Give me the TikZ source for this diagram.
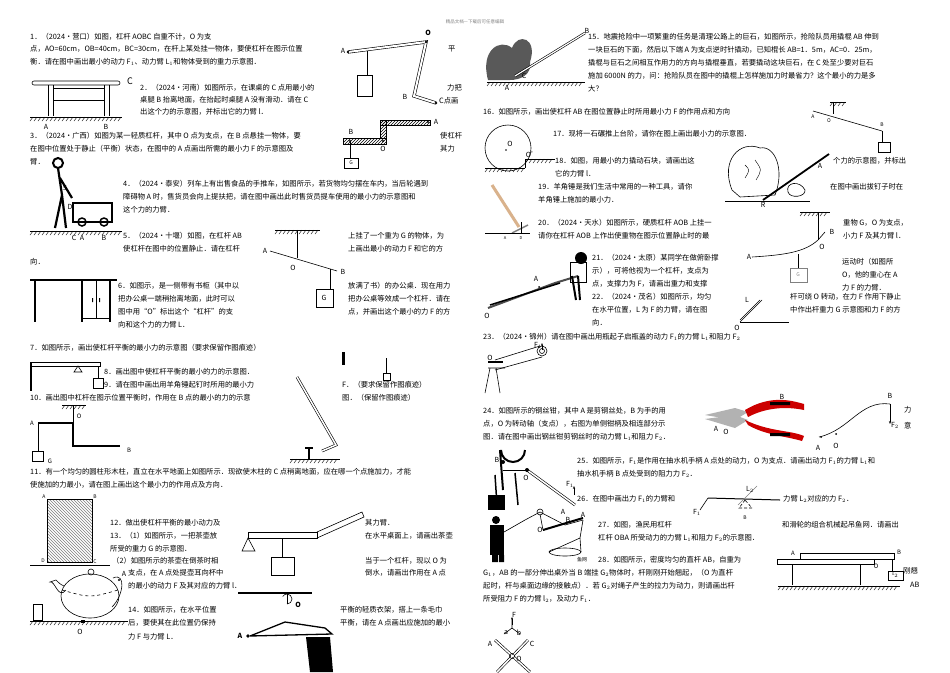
\documentclass[tikz,border=0pt]{standalone}
\usepackage{fontspec}
\setmainfont{Noto Sans CJK SC}
\usetikzlibrary{patterns,arrows.meta}
\newcounter{tn}
\newcommand\T[3]{\stepcounter{tn}\node[txt] (t\arabic{tn}) at (#1,#2) {#3};}
\newcommand\Lb[3]{\stepcounter{tn}\node[lbl] (l\arabic{tn}) at (#1,#2) {#3};}
\newcommand\Gnd[3]{\draw[thin] (#1,#3)--(#2,#3); \pgfmathtruncatemacro\gn{(#2-#1)/4-1}\foreach \k in {0,...,\gn}{\draw[thin] (#1+4*\k,#3+4)--(#1+4*\k+3,#3);}}
\begin{document}
\begin{tikzpicture}[x=1pt,y=-1pt,
 txt/.style={anchor=west,inner sep=0pt,font=\fontsize{7.3}{8}\selectfont},
 lbl/.style={inner sep=0pt,font=\fontsize{7}{8}\selectfont\itshape},
 fig/.style={line width=0.6pt},
 bar/.style={line width=2.2pt}]
\useasboundingbox[fill=white] (0,0) rectangle (950,672);
\node[inner sep=0pt,font=\fontsize{4.5}{5}\selectfont,text=gray] (hdr) at (475,22) {精品文档---下载后可任意编辑};
% ---------- left column text
\T{30}{37}{1．（2024•营口）如图，杠杆 AOBC 自重不计，O 为支}
\T{30}{49}{点，AO=60cm，OB=40cm，BC=30cm，在杆上某处挂一物体，要使杠杆在图示位置}
\T{448}{49}{平}
\T{30}{62}{衡．请在图中画出最小的动力 F$_1$、动力臂 L$_1$和物体受到的重力示意图．}
\T{447}{88}{力把}\T{439}{101}{\textit{C}点画}
\T{140}{88}{2．（2024•河南）如图所示，在课桌的 C 点用最小的}
\T{140}{100}{桌腿 B 抬离地面，在抬起时桌腿 A 没有滑动．请在 C}
\T{140}{112}{出这个力的示意图，并标出它的力臂 l．}
\T{30}{136}{3．（2024•广西）如图为某一轻质杠杆，其中 O 点为支点，在 B 点悬挂一物体，要}
\T{440}{136}{使杠杆}
\T{30}{149}{在图中位置处于静止（平衡）状态，在图中的 A 点画出所需的最小力 F 的示意图及}
\T{440}{149}{其力}
\T{30}{162}{臂．}
\T{123}{184}{4．（2024•泰安）列车上有出售食品的手推车，如图所示，若货物均匀摆在车内，当后轮遇到}
\T{123}{197}{障碍物 A 时，售货员会向上提扶把，请在图中画出此时售货员提车使用的最小力的示意图和}
\T{123}{210}{这个力的力臂．}
\T{123}{236}{5．（2024•十堰）如图，在杠杆 AB}
\T{348}{236}{上挂了一个重为 G 的物体，为}
\T{123}{249}{使杠杆在图中的位置静止．请在杠杆}
\T{348}{249}{上画出最小的动力 F 和它的方}
\T{30}{262}{向．}
\T{118}{286}{6．如图示，是一侧带有书柜（其中以}
\T{348}{286}{放满了书）的办公桌．现在用力}
\T{118}{299}{把办公桌一端稍抬离地面，此时可以}
\T{348}{299}{把办公桌等效成一个杠杆．请在}
\T{118}{312}{图中用“O”标出这个“杠杆”的支}
\T{348}{312}{点，并画出这个最小的力 F 的方}
\T{118}{325}{向和这个力的力臂 L．}
\T{30}{348}{7．如图所示，画出使杠杆平衡的最小力的示意图（要求保留作图痕迹）}
\T{104}{372}{8．画出图中使杠杆平衡的最小的力的示意图．}
\T{104}{385}{9．请在图中画出用羊角锤起钉时所用的最小力}
\T{342}{385}{F．（要求保留作图痕迹）}
\T{30}{398}{10．画出图中杠杆在图示位置平衡时，作用在 B 点的最小的力的示意}
\T{342}{398}{图．（保留作图痕迹）}
\T{30}{472}{11．有一个均匀的圆柱形木柱，直立在水平地面上如图所示．现欲使木柱的 C 点稍离地面，应在哪一个点施加力，才能}
\T{30}{485}{使施加的力最小，请在图上画出这个最小力的作用点及方向．}
\T{110}{523}{12．做出使杠杆平衡的最小动力及}
\T{365}{523}{其力臂．}
\T{110}{536}{13．（1）如图所示，一把茶壶放}
\T{365}{536}{在水平桌面上，请画出茶壶}
\T{110}{549}{所受的重力 G 的示意图．}
\T{112}{561}{（2）如图所示的茶壶在倒茶时相}
\T{365}{561}{当于一个杠杆，现以 O 为}
\T{128}{573}{支点，在 A 点处提壶耳向杯中}
\T{365}{573}{倒水，请画出作用在 A 点}
\T{128}{586}{的最小的动力 F 及其对应的力臂 l．}
\T{128}{610}{14．如图所示，在水平位置}
\T{340}{610}{平衡的轻质衣架，搭上一条毛巾}
\T{128}{623}{后，要使其在此位置仍保持}
\T{340}{623}{平衡，请在 A 点画出应施加的最小}
\T{128}{637}{力 F 与力臂 L．}
% ---------- right column text
\T{588}{37}{15．地震抢险中一项繁重的任务是清理公路上的巨石，如图所示，抢险队员用撬棍 AB 伸到}
\T{588}{50}{一块巨石的下面，然后以下端 A 为支点逆时针撬动，已知棍长 AB=1．5m，AC=0．25m，}
\T{588}{63}{撬棍与巨石之间相互作用力的方向与撬棍垂直，若要撬动这块巨石，在 C 处至少要对巨石}
\T{588}{76}{施加 6000N 的力，问：抢险队员在图中的撬棍上怎样施加力时最省力？这个最小的力是多}
\T{588}{89}{大？}
\T{483}{112}{16．如图所示，画出使杠杆 AB 在图位置静止时所用最小力 F 的作用点和方向}
\T{553}{134}{17．现将一石碾推上台阶，请你在图上画出最小力的示意图．}
\T{555}{161}{18．如图，用最小的力撬动石块，请画出这}
\T{833}{161}{个力的示意图，并标出}
\T{555}{174}{它的力臂 l．}
\T{538}{187}{19．羊角锤是我们生活中常用的一种工具，请你}
\T{830}{187}{在图中画出拔钉子时在}
\T{538}{200}{羊角锤上施加的最小力．}
\T{538}{223}{20．（2024•天水）如图所示，硬质杠杆 AOB 上挂一}
\T{843}{223}{重物 G，O 为支点，}
\T{538}{236}{请你在杠杆 AOB 上作出使重物在图示位置静止时的最}
\T{843}{236}{小力 F 及其力臂 l．}
\T{592}{258}{21．（2024•太原）某同学在做俯卧撑}
\T{842}{262}{运动时（如图所}
\T{592}{271}{示），可将他视为一个杠杆，支点为}
\T{842}{275}{O，他的重心在 A}
\T{592}{284}{点，支撑力为 F，请画出重力和支撑}
\T{842}{288}{力 F 的力臂．}
\T{592}{297}{22．（2024•茂名）如图所示，均匀}
\T{790}{297}{杆可绕 O 转动，在力 F 作用下静止}
\T{592}{310}{在水平位置，L 为 F 的力臂，请在图}
\T{790}{310}{中作出杆重力 G 示意图和力 F 的方}
\T{592}{323}{向．}
\T{483}{337}{23．（2024•锦州）请在图中画出用瓶起子启瓶盖的动力 F$_1$的力臂 L$_1$和阻力 F$_2$}
\T{483}{411}{24．如图所示的钢丝钳，其中 A 是剪钢丝处，B 为手的用}
\T{483}{424}{点，O 为转动轴（支点），右图为单侧钳柄及相连部分示}
\T{483}{437}{图．请在图中画出钢丝钳剪钢丝时的动力臂 L$_1$和阻力 F$_2$．}
\T{904}{410}{力}\T{904}{426}{意}
\T{577}{461}{25．如图所示，F$_1$是作用在抽水机手柄 A 点处的动力，O 为支点．请画出动力 F$_1$的力臂 L$_1$和}
\T{577}{474}{抽水机手柄 B 点处受到的阻力力 F$_2$．}
\T{577}{499}{26．在图中画出力 F$_1$的力臂和}
\T{783}{499}{力臂 L$_2$对应的力 F$_2$．}
\T{598}{525}{27．如图，渔民用杠杆}
\T{782}{525}{和滑轮的组合机械起吊鱼网．请画出}
\T{598}{538}{杠杆 OBA 所受动力的力臂 L$_1$和阻力 F$_2$的示意图．}
\T{598}{560}{28．如图所示，密度均匀的直杆 AB，自重为}
\T{483}{573}{G$_1$，AB 的一部分伸出桌外当 B 端挂 G$_2$物体时，杆刚刚开始翘起，（O 为直杆}
\T{483}{586}{起时，杆与桌面边缘的接触点）．若 G$_2$对绳子产生的拉力为动力，则请画出杆}
\T{483}{599}{所受阻力 F 的力臂 l$_2$，及动力 F$_1$．}
\T{903}{571}{刚翘}\T{910}{585}{AB}
% ---------- Fig 1
\draw[fig,double,double distance=2pt] (348,52)--(426,42)--(414,96)--(436,103);
\fill (348,52) circle(1.3) (426,42) circle(1.3) (436,103) circle(1.3);
\draw[fig] (367,51)--(367,75); \draw[fig] (357,75) rectangle (372,96);
\Lb{343}{51}{A}\node[lbl,font=\fontsize{7}{8}\selectfont\bfseries] (o1) at (428,33) {O}; \Lb{405}{97}{B}
% ---------- Fig 2 desk
\draw[fig,rounded corners=2pt] (32,81) rectangle (120,85);
\draw[fig] (48,85)--(48,116) (53,85)--(53,116) (104,85)--(104,116) (109,85)--(109,116);
\draw[fig] (53,88)--(104,88) (53,100)--(104,100);
\Gnd{30}{122}{117}
\Lb{46}{127}{A}\Lb{106}{127}{B}\node[lbl,font=\fontsize{9}{9}\selectfont\itshape] (c2) at (130,81) {C};
% ---------- Fig 3
\draw[fig,pattern=north east lines] (343,138) rectangle (386,144);
\draw[fig,pattern=north east lines] (380,120) rectangle (386,138);
\draw[fig,pattern=north east lines] (380,120) rectangle (430,125);
\fill (350,141) circle(1.1) (383,141) circle(1.1) (428,122) circle(1.1);
\draw[fig] (350,141)--(350,158); \draw[fig] (344,158) rectangle (358,168);
\node[inner sep=0pt,font=\fontsize{5}{6}\selectfont] (g3) at (351,163) {G};
\node[inner sep=0pt,font=\fontsize{7}{8}\selectfont] (a3) at (436,122) {A};
\node[inner sep=0pt,font=\fontsize{7}{8}\selectfont] (b3) at (351,132) {B};
\node[inner sep=0pt,font=\fontsize{7}{8}\selectfont] (o3) at (383,149) {O};
% ---------- Fig 4 cart
\draw[line width=2pt] (58,163) circle(5);
\draw[line width=2.2pt] (58,168)--(62,195)--(55,228) (62,195)--(66,228) (60,178)--(72,198);
\draw[line width=1.5pt] (73,203) rectangle (112,222);
\draw[line width=1.5pt] (82,222) circle(4) (104,222) circle(4);
\Gnd{30}{122}{231}
\Lb{74}{238}{C}\Lb{82}{238}{A}\Lb{104}{238}{B}\Lb{65}{188}{5}\Lb{70}{207}{D}
% ---------- Fig 5
\Gnd{275}{320}{230}
\draw[fig] (297,230)--(297,258);
\draw[fig] (270,251)--(337,271);
\draw[fig] (330,269)--(330,289); \draw[line width=1pt] (316,289) rectangle (333,307);
\Lb{265}{251}{A}\Lb{293}{268}{O}\Lb{343}{272}{B}\Lb{324}{298}{G}
% ---------- Fig 6
\draw[line width=2pt] (30,280)--(117,280);
\draw[line width=1.5pt] (35,280)--(35,322) (82,280)--(82,322) (110,280)--(110,322);
\draw[fig] (96,281)--(96,318) (82,318)--(110,318);
\fill (92,298) rectangle (93,302) (99,298) rectangle (100,302);
% ---------- Fig 7
\draw[line width=1.5pt] (31,362)--(31,391);
\draw[fig] (31,362) rectangle (100,366);
\draw[fig] (78,366)--(74,372)--(82,372)--cycle;
\draw[fig] (98,366)--(98,378); \draw[fig] (93,378) rectangle (103,388);
% ---------- Fig 8
\fill[black] (342,352) rectangle (345,365);
\draw[fig,double,double distance=1.2pt] (345,358)--(386,358)--(386,332)--(427,332);
\draw[fig] (386,358)--(386,373); \draw[fig] (383,373) rectangle (390,380);
% ---------- Fig 9 hammer
\draw[fig,double,double distance=1.5pt] (297,377)--(336,445)--(322,451);
\draw[line width=1.5pt] (309,447)--(309,460) (305,448)--(313,448);
\Gnd{290}{340}{459}
% ---------- Fig 10
\Gnd{62}{86}{405}
\draw[line width=1.3pt] (38,423)--(73,423)--(73,446)--(120,446);
\draw[fig] (73,405)--(73,423);
\draw[fig] (38,423)--(38,451); \draw[fig] (32,451) rectangle (43,461);
\node[inner sep=0pt,font=\fontsize{6}{7}\selectfont] (a10) at (32,423) {A};
\node[inner sep=0pt,font=\fontsize{6}{7}\selectfont] (o10) at (79,416) {O};
\node[inner sep=0pt,font=\fontsize{6}{7}\selectfont] (b10) at (129,450) {B};
\node[inner sep=0pt,font=\fontsize{6}{7}\selectfont] (g10) at (50,461) {G};
% ---------- Fig 11
\draw[fig,pattern=north west lines,pattern color=gray] (47,499) rectangle (92,562);
\draw[fig] (30,565)--(110,565);
\node[inner sep=0pt,font=\fontsize{5}{6}\selectfont] (a11) at (44,497) {A};
\node[inner sep=0pt,font=\fontsize{5}{6}\selectfont] (b11) at (95,497) {B};
\node[inner sep=0pt,font=\fontsize{5}{6}\selectfont] (d11) at (43,561) {D};
\node[inner sep=0pt,font=\fontsize{5}{6}\selectfont] (c11) at (95,562) {C};
% ---------- Fig 12
\draw[fig] (248,532) rectangle (317,538);
\draw[fig] (317,532)--(362,512)--(364,517)--(317,538);
\draw[fig] (248,538)--(242,551)--(255,551)--cycle;
\draw[fig] (282,538)--(282,557); \draw[fig] (271,557) rectangle (294,575);
% ---------- Teapot
\draw[fig] (90,596) ellipse (29 and 22);
\draw[fig,dashed] (62,590) .. controls (90,598) .. (118,590);
\draw[fig] (91,572) circle(3);
\draw[fig] (66,590) .. controls (58,600) and (55,580) .. (50,582) -- (56,580) .. controls (60,584) .. (64,586);
\draw[fig] (113,578) .. controls (126,572) and (124,595) .. (112,607);
\fill (119,580) circle(1.2);
\draw[fig] (33,604) rectangle (42,620);
\Gnd{30}{128}{621}
\fill (81,620) rectangle (85,623);
\Lb{80}{632}{O}\Lb{124}{574}{A}
% ---------- Hanger
\draw[line width=1.2pt] (238,593)--(312,593);
\draw[fig] (287,593)--(287,604);
\draw[fig] (287,604) arc(90:-150:5);
\node[inner sep=0pt,font=\fontsize{7}{8}\selectfont\bfseries] (o14) at (298,605) {O};
\draw[line width=1.3pt] (250,636)--(285,622)--(325,628)--(332,634)--(250,636);
\fill (248,636) circle(1.8);
\node[inner sep=0pt,font=\fontsize{7}{8}\selectfont\bfseries] (a14) at (240,636) {A};
\fill[black] (306,637) -- (330,637) -- (333,672) -- (310,672) -- cycle;
% ---------- Fig 15
\fill[gray!70!black] (488,80) .. controls (480,50) and (500,38) .. (512,48) .. controls (518,32) and (538,38) .. (530,62) .. controls (532,75) and (520,80) .. (510,80) -- cycle;
\draw[fig,double,double distance=1.2pt] (515,76)--(585,33);
\Gnd{487}{585}{82}
\Lb{587}{31}{B}\Lb{524}{76}{C}\Lb{507}{88}{A}
% ---------- Fig 16
\Gnd{830}{846}{102}
\draw[fig] (833,102)--(833,114);
\draw[fig] (813,111)--(882,131);
\draw[fig] (882,131)--(882,142); \draw[fig] (878,142) rectangle (890,152);
\node[inner sep=0pt,font=\fontsize{5}{6}\selectfont] (a16) at (813,117) {A};
\node[inner sep=0pt,font=\fontsize{5}{6}\selectfont] (o16) at (829,121) {O};
\node[inner sep=0pt,font=\fontsize{5}{6}\selectfont] (b16) at (882,125) {B};
% ---------- Fig 17
\draw[fig] (508,148) circle(23);
\fill (506,150) circle(0.8);
\Gnd{485}{525}{168}
\draw[fig] (525,168)--(525,159);
\Gnd{525}{555}{159}
\Lb{510}{144}{O}\Lb{532}{155}{O'}
% ---------- Fig 18
\draw[fig] (732,190) .. controls (720,160) and (740,140) .. (760,148) .. controls (775,145) and (785,170) .. (775,195) -- (740,197) -- cycle;
\draw[thin] (745,165) .. controls (750,170) .. (745,178) (755,160) .. controls (762,170) .. (756,180);
\draw[fig] (788,192) .. controls (785,182) and (800,180) .. (805,190) .. controls (806,197) and (790,199) .. (788,192);
\draw[line width=1.8pt] (763,200)--(829,154);
\draw[fig] (725,201)--(810,201);
\Lb{763}{205}{R}\Lb{820}{166}{A}
% ---------- Fig 19 hammer
\draw[line width=3pt,brown!60] (492,185)--(519,227);
\draw[line width=1.5pt,gray] (512,233)--(528,225);
\draw[line width=1pt] (521,222)--(521,233);
\draw[thin] (485,233)--(530,233);
\node[inner sep=0pt,font=\fontsize{4}{5}\selectfont] (a19) at (505,238) {A};
\node[inner sep=0pt,font=\fontsize{4}{5}\selectfont] (d19) at (521,238) {D};
% ---------- Fig 20
\Gnd{800}{830}{212}
\draw[fig] (818,212)--(818,240);
\draw[fig] (818,240)--(825,232);
\draw[fig] (752,257) .. controls (785,255) and (805,252) .. (818,240);
\draw[fig] (798,254)--(798,268); \draw[fig,gray] (790,268) rectangle (807,282);
\Lb{749}{257}{A}\Lb{822}{247}{O}\Lb{832}{232}{B}\node[inner sep=0pt,font=\fontsize{5}{6}\selectfont,gray] (g20) at (798,275) {G};
% ---------- Fig 21 push-up
\draw[line width=2pt,gray!60!black] (488,308)--(555,283)--(578,276);
\draw[line width=1.5pt] (490,305)--(560,283);
\draw[line width=2pt] (578,276)--(580,300) (572,276)--(576,300);
\fill[black] (581,258) circle(6);
\draw[fig] (570,262) rectangle (586,282);
\fill (539,287) circle(1);
\Lb{536}{279}{A}\Lb{487}{316}{O}
% ---------- Fig 22
\draw[line width=1pt] (740,322)--(789,322);
\draw[fig] (740,322)--(762,300);
\draw[fig] (740,320)--(760,300);
\Lb{747}{300}{L}\Lb{737}{328}{O}
% ---------- Fig 23 bottle opener
\draw[fig] (495,360)--(540,346) (495,370)--(542,357);
\draw[fig] (542,351) circle(5) (542,351) circle(2.5);
\draw[line width=2pt] (488,362)--(503,362);
\draw[fig] (490,368)--(485,393) (496,368)--(500,393) (488,368)--(505,368);
\draw[-{Stealth[length=3pt]},fig] (542,350)--(542,343);
\Lb{538}{345}{F$_1$}\Lb{490}{358}{O}
% ---------- Fig 24 pliers
\fill[gray!60] (705,415) -- (735,408) -- (748,412) -- (735,420) -- cycle;
\fill[gray!60] (705,419) -- (735,428) -- (748,420) -- (735,415) -- cycle;
\fill[red!80!black] (745,410) .. controls (770,395) and (790,400) .. (804,404) -- (804,410) .. controls (785,406) and (765,408) .. (748,417) -- cycle;
\fill[red!80!black] (745,420) .. controls (770,432) and (790,430) .. (804,436) -- (802,441) .. controls (785,436) and (765,435) .. (748,425) -- cycle;
\fill[black] (770,402) rectangle (790,405) (770,433) rectangle (790,436);
\Lb{716}{429}{A}\Lb{726}{432}{O}\Lb{782}{397}{B}
% Fig 24b
\draw[fig] (819,437) .. controls (850,430) and (860,400) .. (890,404);
\fill (821,437) circle(1) (836,434) circle(1);
\draw[-{Stealth[length=3pt]},fig] (890,404)--(890,424);
\Lb{818}{448}{A}\Lb{836}{446}{O}\Lb{890}{396}{B}\Lb{895}{425}{F$_2$}
% ---------- Fig 25 pump
\draw[line width=2pt] (500,450)--(503,490) (525,450) arc(0:180:12);
\draw[line width=1.5pt] (495,475)--(497,505) (515,473)--(518,505);
\fill[black] (488,495) rectangle (505,510);
\draw[fig,double,double distance=1.5pt] (527,470)--(575,505);
\draw[fig] (503,470)--(527,470);
\fill (503,462) circle(2) (527,470) circle(2);
\draw[-{Stealth[length=3pt]},fig] (574,495)--(574,486);
\Lb{497}{460}{B}\Lb{526}{478}{O}\Lb{570}{484}{F$_1$}\Lb{563}{512}{A}
% ---------- Fig 26
\draw[line width=1pt] (708,498)--(780,500);
\draw[fig] (708,498)--(700,510);
\draw[fig,densely dashed] (745,500)--(739,508)--(752,508)--cycle;
\draw[fig,gray] (738,505)--(757,486);
\Lb{697}{512}{F$_1$}\Lb{750}{489}{L$_2$}\node[inner sep=0pt,font=\fontsize{5}{6}\selectfont] (b26) at (745,518) {B};
% ---------- Fig 27 fisher
\fill[black] (496,520) circle(4);
\fill[black] (490,525) rectangle (504,555);
\fill[black] (492,555) rectangle (498,562) (499,555) rectangle (504,562);
\draw[fig] (504,532)--(525,520)--(540,512)--(565,525)--(583,520);
\draw[fig] (540,512) circle(3);
\draw[line width=2pt] (543,530)--(583,518);
\draw[fig] (543,530)--(540,514);
\draw[fig] (583,520)--(580,538); \draw[fig] (565,552) ellipse (16 and 4);
\draw[fig] (580,538)--(549,552) (580,538)--(581,552);
\Lb{540}{530}{O}\Lb{568}{520}{B}\Lb{583}{515}{A}
\node[inner sep=0pt,font=\fontsize{5}{6}\selectfont] (yw) at (582,560) {鱼网};
% ---------- Fig 28
\draw[fig] (777,559) rectangle (874,564);
\draw[fig] (800,553) rectangle (894,559);
\draw[fig] (792,564)--(792,585) (860,564)--(860,585);
\Gnd{778}{900}{586}
\draw[fig] (892,559)--(892,571); \draw[fig] (888,571) rectangle (903,580);
\node[inner sep=0pt,font=\fontsize{3.5}{4}\selectfont] (g28) at (895,575) {G$_2$};
\node[inner sep=0pt,font=\fontsize{6}{7}\selectfont] (a28) at (793,553) {A};
\node[inner sep=0pt,font=\fontsize{6}{7}\selectfont] (b28) at (899,552) {B};
\node[inner sep=0pt,font=\fontsize{6}{7}\selectfont] (o28) at (876,566) {O};
% ---------- bottom scissors
\draw[fig,double,double distance=1.5pt] (495,640)--(530,672) (528,640)--(497,672);
\draw[fig] (504,634)--(512,628)--(520,634) (512,628)--(512,618);
\draw[-{Stealth[length=2.5pt]},thin] (512,625)--(512,617);
\draw[fig] (512,656) circle(2.5);
\Lb{514}{615}{F}\Lb{506}{633}{a}\Lb{519}{633}{b}\Lb{490}{644}{A}\Lb{532}{644}{C}\Lb{519}{659}{O}
\end{tikzpicture}
\end{document}
